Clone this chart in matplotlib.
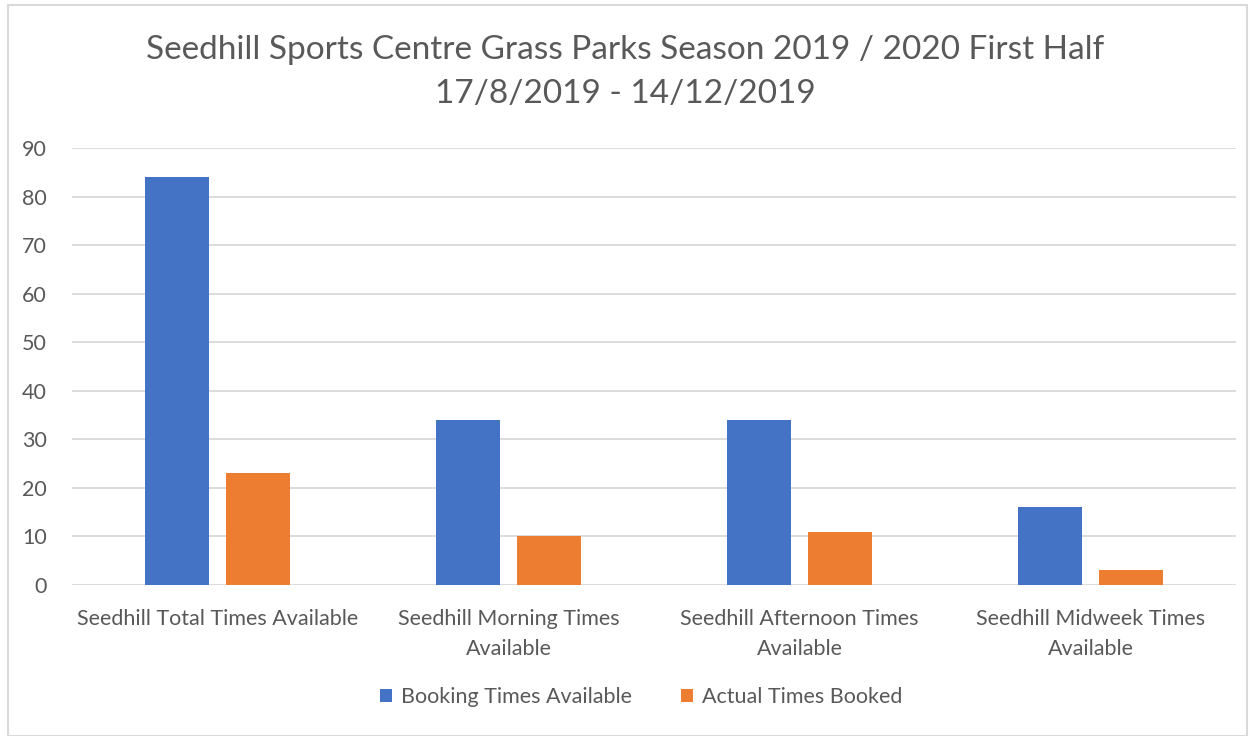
import numpy as np
import matplotlib.pyplot as plt
from matplotlib.patches import Rectangle

plt.rcParams['font.family'] = ['Lato', 'DejaVu Sans']

categories = ['Seedhill Total Times Available', 'Seedhill Morning Times\nAvailable',
              'Seedhill Afternoon Times\nAvailable', 'Seedhill Midweek Times\nAvailable']
booking_available = [84, 34, 34, 16]
actual_booked = [23, 10, 11, 3]
series_names = ['Booking Times Available', 'Actual Times Booked']
colors = ['#4472C4', '#ED7D31']
grey = '#595959'

fig = plt.figure(figsize=(12.5, 7.36), dpi=100)
ax = fig.add_axes([72 / 1250, 1 - 585 / 736, (1236 - 72) / 1250, (585 - 148) / 736])

x = np.arange(len(categories))
w = 0.223
off = 0.139
ax.bar(x - off, booking_available, w, color=colors[0], label=series_names[0], zorder=3)
ax.bar(x + off, actual_booked, w, color=colors[1], label=series_names[1], zorder=3)

ax.set_xlim(-0.5, len(categories) - 0.5)
ax.set_ylim(0, 90)
ax.set_yticks(range(0, 91, 10))
ax.yaxis.grid(True, color='#D9D9D9', linewidth=1.3, zorder=0)
for s in ax.spines.values():
    s.set_visible(False)
ax.tick_params(axis='both', length=0, labelsize=15.5, labelcolor=grey)
ax.tick_params(axis='y', pad=18)
ax.tick_params(axis='x', pad=17)
ax.set_xticks(x)
ax.set_xticklabels(categories, linespacing=1.65)

fig.text(0.5, 1 - 72 / 736, 'Seedhill Sports Centre Grass Parks Season 2019 / 2020 First Half\n17/8/2019 - 14/12/2019',
         ha='center', va='center', fontsize=24, color=grey, linespacing=1.6)

fig.legend(loc='center', bbox_to_anchor=(0.513, 1 - 697 / 736), ncol=2, frameon=False,
           fontsize=15.5, labelcolor=grey, handlelength=0.55, handleheight=0.55,
           handletextpad=0.4, columnspacing=2.3)

fig.patches.append(Rectangle((8 / 1250, 0), (1247 - 8) / 1250, 1 - 5 / 736,
                             transform=fig.transFigure, fill=False,
                             edgecolor='#D9D9D9', linewidth=1.5))

fig.savefig('out.png', dpi=100)
